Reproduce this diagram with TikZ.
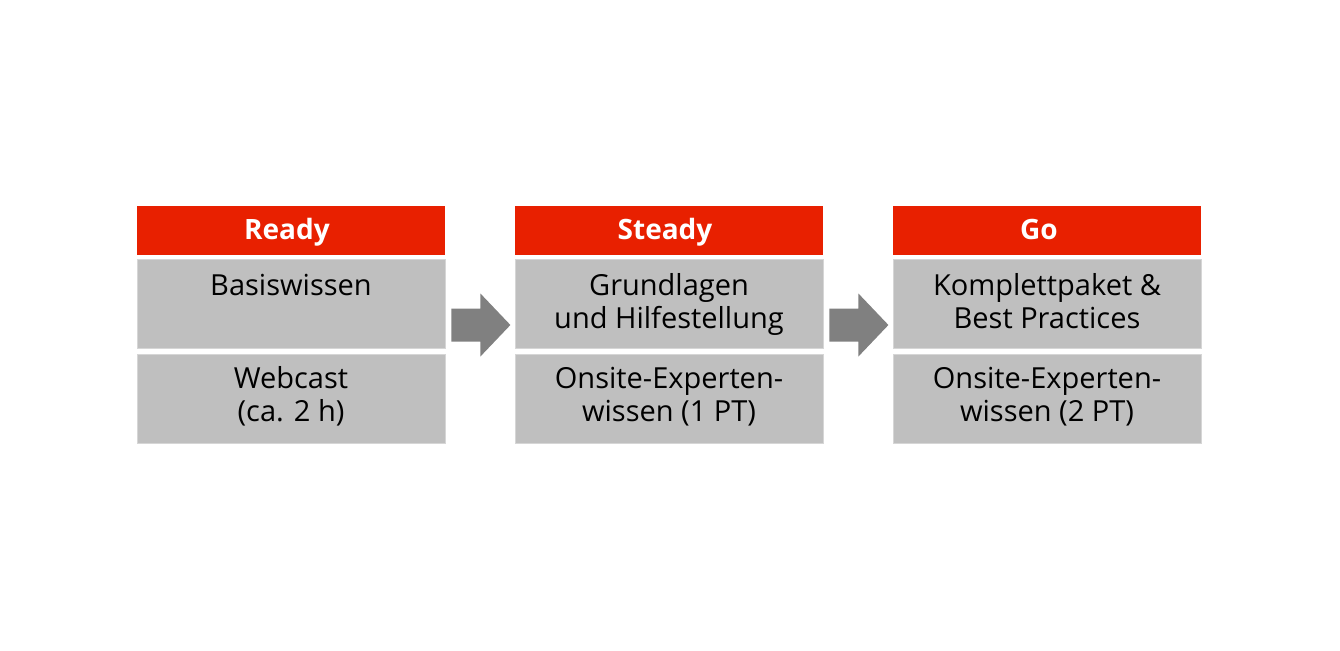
\documentclass[tikz,border=0pt]{standalone}
\usepackage{fontspec}
\setmainfont{Open Sans}
\usetikzlibrary{calc}
\definecolor{hdred}{RGB}{232,32,0}
\definecolor{boxgray}{RGB}{191,191,191}
\definecolor{boxedge}{RGB}{214,214,214}
\definecolor{arrgray}{RGB}{128,128,128}
\begin{document}
\begin{tikzpicture}[x=1pt,y=-1pt,
  header/.style={fill=hdred, draw=none, minimum width=308pt, minimum height=49pt, inner sep=0pt},
  hdtxt/.style={inner sep=0pt, anchor=base, text=white, font=\fontsize{28}{33}\selectfont\bfseries},
  cell/.style={fill=boxgray, draw=boxedge, line width=0.8pt, minimum width=308pt, inner sep=0pt},
  txt/.style={align=center, inner sep=0pt, anchor=base, font=\fontsize{29}{33}\selectfont},
  bigarrow/.style={fill=arrgray, draw=none}]
\fill[white] (0,0) rectangle (1340,650);
\useasboundingbox (0,0) rectangle (1340,650);
\foreach \i/\hd/\hs/\na/\nb/\nc/\nd in {
  1/Ready/-4/Basiswissen//Webcast/(ca. 2 h),
  2/Steady/-4/Grundlagen/und Hilfestellung/Onsite-Experten-/wissen (1 PT),
  3/Go/-8/Komplettpaket \&/Best Practices/Onsite-Experten-/wissen (2 PT)} {
  \pgfmathsetmacro{\cx}{291+378*(\i-1)}
  \node[header] (h\i) at (\cx,230.5) {};
  \node[hdtxt] (th\i) at ($(h\i.north)+(\hs,33.5)$) {\hd};
  \node[cell, minimum height=89pt] (a\i) at (\cx,304) {};
  \node[cell, minimum height=89pt] (b\i) at (\cx,398.5) {};
  \node[txt] (ta\i) at ($(a\i.north)+(0,36)$) {\na};
  \node[txt] (tb\i) at ($(ta\i.base)+(0,33)$) {\nb};
  \node[txt] (tc\i) at ($(b\i.north)+(0,35)$) {\nc};
  \node[txt] (td\i) at ($(tc\i.base)+(0,33)$) {\nd};
}
\foreach \i/\j in {1/2,2/3} {
  \coordinate (s\i) at ($(a\i.east)+(6,21)$);
  \fill[bigarrow] (s\i) ++(0,-16.5) -- ++(29,0) -- ++(0,-15) -- ++(30,31.5) -- ++(-30,31.5) -- ++(0,-15) -- ++(-29,0) -- cycle;
}
\end{tikzpicture}
\end{document}
